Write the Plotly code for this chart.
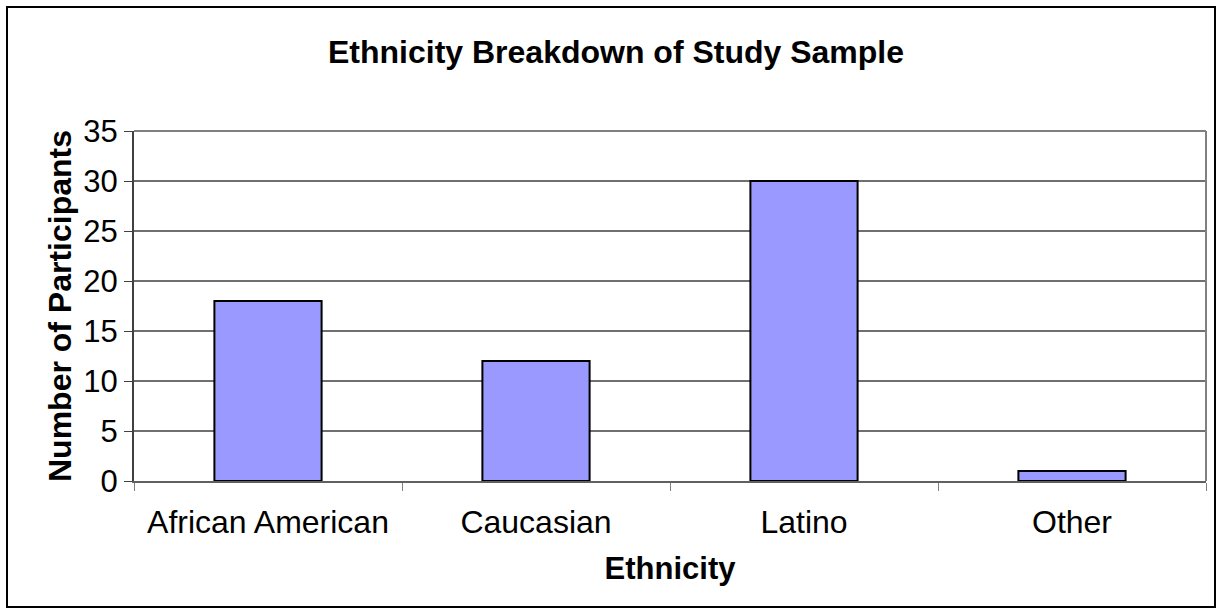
import plotly.graph_objects as go

# Study sample counts by ethnicity
categories = ["African American", "Caucasian", "Latino", "Other"]
participants = [18, 12, 30, 1]
y_ticks = [0, 5, 10, 15, 20, 25, 30, 35]

FONT = "Liberation Sans, Arial, sans-serif"

fig = go.Figure(
    go.Bar(
        x=categories,
        y=participants,
        width=0.4,
        marker=dict(color="#9999FF", line=dict(color="#000000", width=2)),
        hoverinfo="x+y",
    )
)

fig.update_layout(
    width=1217,
    height=609,
    margin=dict(l=134, r=11, t=131, b=128),
    paper_bgcolor="white",
    plot_bgcolor="white",
    showlegend=False,
    font=dict(family=FONT, color="#000000", size=32),
    title=dict(
        text="<b>Ethnicity Breakdown of Study Sample</b>",
        x=616 / 1217,
        xanchor="center",
        y=1 - 52 / 609,
        yanchor="middle",
        font=dict(family=FONT, size=32, color="#000000"),
    ),
    shapes=[
        # outer frame of the chart
        dict(type="rect", xref="paper", yref="paper",
             x0=-127 / 1072, x1=1 + 9 / 1072, y0=-126 / 350, y1=1 + 124 / 350,
             line=dict(color="#000000", width=2), layer="below"),
        # plot area frame (top and right edges)
        dict(type="line", xref="paper", yref="paper", x0=0, x1=1, y0=1, y1=1,
             line=dict(color="#808080", width=2)),
        dict(type="line", xref="paper", yref="paper", x0=1, x1=1, y0=0, y1=1,
             line=dict(color="#808080", width=2)),
    ],
)

fig.update_xaxes(
    type="category",
    tickson="boundaries",
    ticks="outside",
    ticklen=8,
    tickwidth=1,
    tickcolor="#808080",
    showline=True,
    linecolor="#606060",
    linewidth=2,
    showgrid=False,
    ticklabelstandoff=12,
    tickfont=dict(family=FONT, size=32),
    title=dict(text="<b>Ethnicity</b>", font=dict(family=FONT, size=31), standoff=18),
)

fig.update_yaxes(
    range=[0, 35],
    tickvals=y_ticks,
    ticks="outside",
    ticklen=8,
    tickwidth=1,
    tickcolor="#404040",
    showline=True,
    linecolor="#404040",
    linewidth=2,
    showgrid=True,
    gridcolor="#707070",
    gridwidth=2,
    zeroline=False,
    tickfont=dict(family=FONT, size=31),
    title=dict(text="<b>Number of Participants</b>", font=dict(family=FONT, size=32), standoff=2),
)

fig.write_html("out.html")
